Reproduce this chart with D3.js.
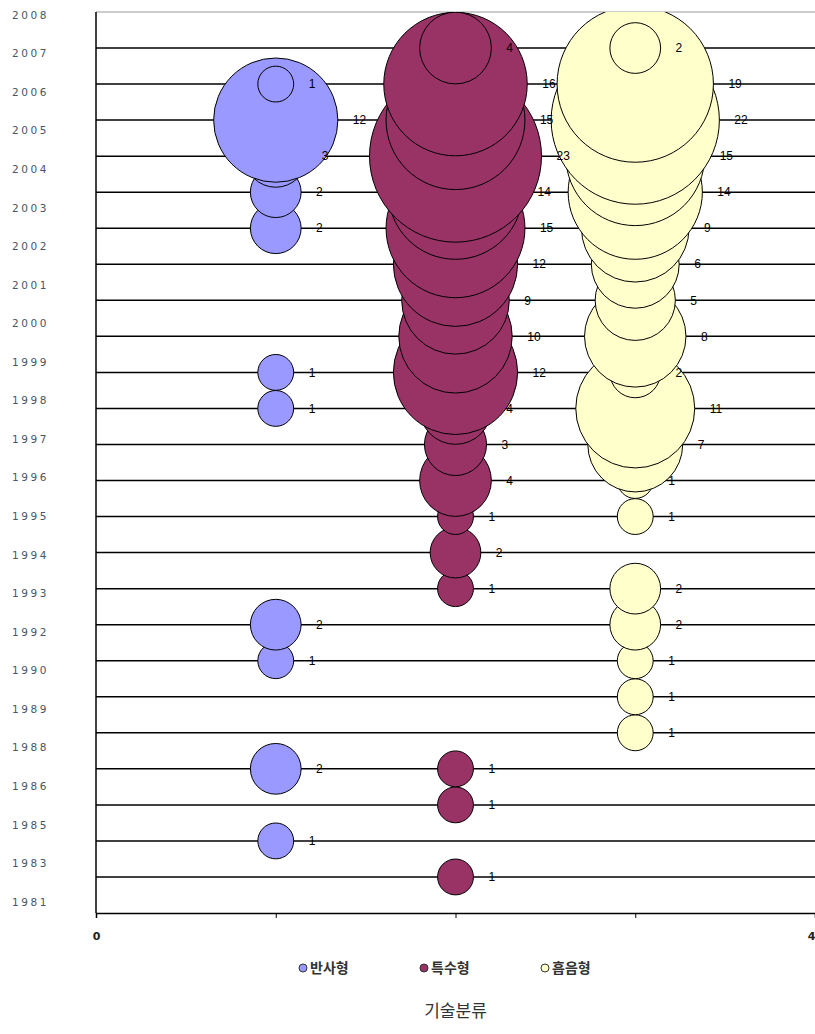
<!DOCTYPE html>
<html>
<head>
<meta charset="utf-8">
<script src="https://cdn.jsdelivr.net/npm/d3@7"></script>
<style>
  body { margin: 0; background: #fff; }
  svg { display: block; }
</style>
</head>
<body>
<div id="chart"></div>
<script>
// year labels as they are listed down the left side (top to bottom)
const yearLabels = ['2008', '2007', '2006', '2005', '2004', '2003', '2002', '2001', '2000',
  '1999', '1998', '1997', '1996', '1995', '1994', '1993', '1992', '1990', '1989', '1988',
  '1986', '1985', '1983', '1981'];

const seriesNames = ['반사형', '특수형', '흡음형'];
const seriesX = [1, 2, 3];
const seriesColors = ['#9999ff', '#993366', '#ffffcc'];

// row (y value) and count of each bubble
const reflectRows = [23, 22, 21, 20, 19, 15, 14, 8, 7, 4, 2];
const reflectCounts = [1, 12, 3, 2, 2, 1, 1, 2, 1, 2, 1];

const specialRows = [24, 23, 22, 21, 20, 19, 18, 17, 16, 15, 14, 13, 12, 11, 10, 9, 4, 3, 1];
const specialCounts = [4, 16, 15, 23, 14, 15, 12, 9, 10, 12, 4, 3, 4, 1, 2, 1, 1, 1, 1];

const absorbRows = [24, 23, 22, 21, 20, 19, 18, 17, 16, 15, 14, 13, 12, 11, 9, 8, 7, 6, 5];
const absorbCounts = [2, 19, 22, 15, 14, 9, 6, 5, 8, 2, 11, 7, 1, 1, 2, 2, 1, 1, 1];

const xTicks = [0, 1, 2, 3, 4];

const rowsBySeries = [reflectRows, specialRows, absorbRows];
const countsBySeries = [reflectCounts, specialCounts, absorbCounts];

var width = 815, height = 1034;
var margin = { top: 12, bottom: 121, left: 96, right: 0 };

const svg = d3.select('#chart')
  .append('svg')
  .attr('width', width)
  .attr('height', height);

const x = d3.scaleLinear()
  .domain([0, 4])
  .range([margin.left, width - margin.right]);

const y = d3.scaleLinear()
  .domain([0, 25])
  .range([height - margin.bottom, margin.top]);

const r = d3.scaleSqrt()
  .domain([0, 23])
  .range([0, 86]);

const labelY = d3.scalePoint()
  .domain(yearLabels)
  .range([15, 902]);

svg.append('defs').append('clipPath')
  .attr('id', 'plot')
  .append('rect')
  .attr('x', margin.left)
  .attr('y', margin.top)
  .attr('width', width - margin.left - margin.right)
  .attr('height', y(0) - margin.top);

// top border
svg.append('line')
  .attr('x1', margin.left).attr('x2', width)
  .attr('y1', y(25)).attr('y2', y(25))
  .attr('stroke', '#999').attr('stroke-width', 1);

// gridlines
svg.append('g')
  .selectAll('line')
  .data(d3.range(1, 25))
  .join('line')
  .attr('x1', margin.left)
  .attr('x2', width)
  .attr('y1', d => y(d))
  .attr('y2', d => y(d))
  .attr('stroke', '#000')
  .attr('stroke-width', 1.5);

// bubbles, drawn from the lowest row up (later rows sit on top)
const bubbles = svg.append('g').attr('clip-path', 'url(#plot)');
const labels = [];
seriesNames.forEach((name, s) => {
  const pts = rowsBySeries[s].map((row, i) => ({ row: row, n: countsBySeries[s][i], s: s }));
  pts.forEach(p => labels.push(p));
  bubbles.append('g')
    .selectAll('circle')
    .data(pts.slice().sort((a, b) => a.row - b.row))
    .join('circle')
    .attr('cx', x(seriesX[s]))
    .attr('cy', d => y(d.row))
    .attr('r', d => r(d.n))
    .attr('fill', seriesColors[s])
    .attr('stroke', '#000')
    .attr('stroke-width', 1);
});

svg.append('g')
  .selectAll('text')
  .data(labels)
  .join('text')
  .attr('x', d => x(seriesX[d.s]) + r(d.n) + 15)
  .attr('y', d => y(d.row))
  .attr('dy', '0.35em')
  .attr('font-family', 'Liberation Sans, Arial, sans-serif')
  .attr('font-size', '12px')
  .attr('fill', '#000')
  .text(d => d.n);

// x axis
const xAxis = svg.append('g')
  .attr('transform', `translate(0,${y(0)})`)
  .call(d3.axisBottom(x).tickValues(xTicks).tickSize(5).tickPadding(14)
    .tickFormat(d => (d === 0 || d === 4) ? d : ''));
xAxis.select('.domain').attr('stroke-width', 1.5);
xAxis.selectAll('text')
  .attr('font-family', 'DejaVu Sans, sans-serif')
  .attr('font-size', '11px')
  .attr('font-weight', 'bold')
  .attr('fill', '#222')
  .attr('text-anchor', d => d === 4 ? 'end' : 'middle');

// y axis line
svg.append('line')
  .attr('x1', margin.left).attr('x2', margin.left)
  .attr('y1', y(25)).attr('y2', y(0))
  .attr('stroke', '#000').attr('stroke-width', 1.5);

// year labels
svg.append('g')
  .selectAll('text')
  .data(yearLabels)
  .join('text')
  .attr('x', 12)
  .attr('y', d => labelY(d))
  .attr('dy', '0.35em')
  .attr('font-family', 'DejaVu Sans, sans-serif')
  .attr('font-size', '10.5px')
  .attr('letter-spacing', '2.6px')
  .attr('fill', '#4a5566')
  .text(d => d);

// legend
const legend = svg.append('g').attr('transform', 'translate(303,968)');
const item = legend.selectAll('g')
  .data(seriesNames)
  .join('g')
  .attr('transform', (d, i) => `translate(${i * 121},0)`);
item.append('circle')
  .attr('r', 4)
  .attr('fill', (d, i) => seriesColors[i])
  .attr('stroke', '#333')
  .attr('stroke-width', 1);
item.append('text')
  .attr('x', 7)
  .attr('dy', '0.35em')
  .attr('font-family', 'Noto Sans CJK KR, sans-serif')
  .attr('font-size', '14px')
  .attr('font-weight', 'bold')
  .attr('fill', '#333')
  .text(d => d);

// axis title
svg.append('text')
  .attr('x', x(2))
  .attr('y', 1011)
  .attr('text-anchor', 'middle')
  .attr('dy', '0.35em')
  .attr('font-family', 'Noto Sans CJK KR, sans-serif')
  .attr('font-size', '17px')
  .attr('fill', '#333')
  .text('기술분류');
</script>
</body>
</html>
